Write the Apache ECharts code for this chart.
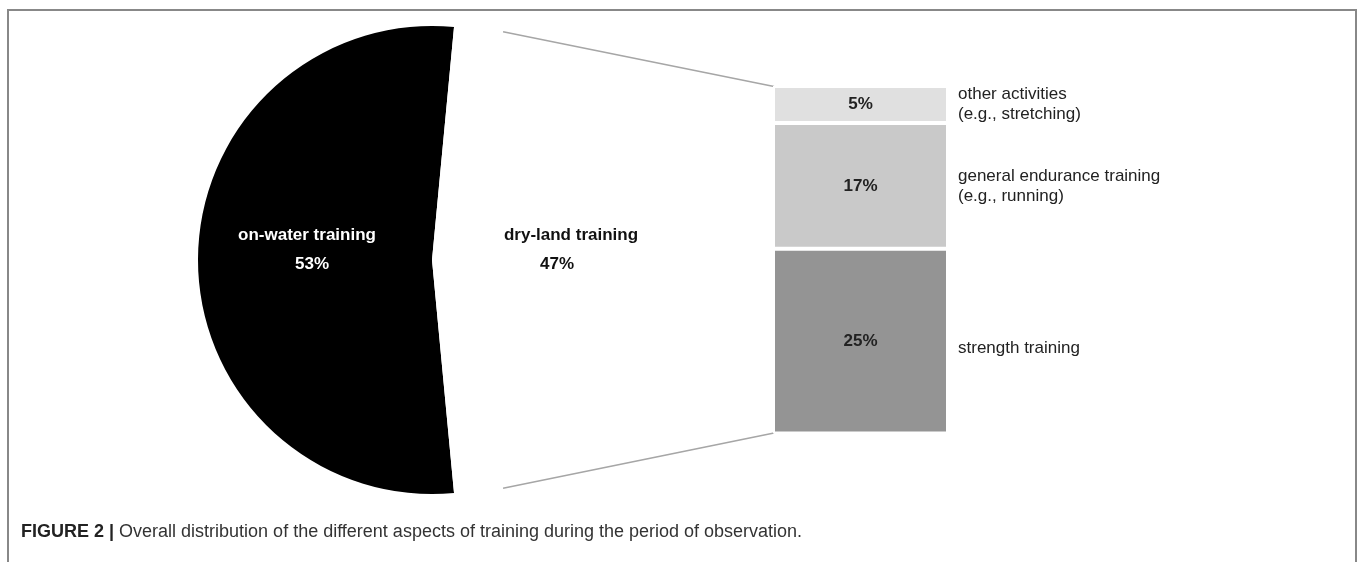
<!DOCTYPE html>
<html>
<head>
<meta charset="utf-8">
<script src="https://cdn.jsdelivr.net/npm/echarts@6/dist/echarts.min.js"></script>
<style>
html,body{margin:0;padding:0;background:#fff;}
#chart{width:1358px;height:562px;}
</style>
</head>
<body>
<div id="chart"></div>
<script>
// ---- data ----
const pieNames = ['on-water training', 'dry-land training'];
const pieValues = [53, 47];
const barNames = ['strength training', 'general endurance training\n(e.g., running)', 'other activities\n(e.g., stretching)'];
const barValues = [25, 17, 5];
const captionBold = 'FIGURE 2 |';
const captionText = 'Overall distribution of the different aspects of training during the period of observation.';

// ---- layout / style ----
const FONT = '"Liberation Sans", Arial, sans-serif';
const pieCenter = [432, 260];
const pieRadius = 234;
const barColors = ['#949494', '#c9c9c9', '#e0e0e0'];
const rightLabelOffsets = [[0, 7], [0, 0], [0, 0]];
const gridBox = {left: 773, top: 86, width: 175, height: 347.5};
const barTotal = barValues.reduce((a, b) => a + b, 0);
const blackShare = pieValues[0] / (pieValues[0] + pieValues[1]) * 360;
const startAngle = 180 + blackShare / 2;

const chart = echarts.init(document.getElementById('chart'), null, {renderer: 'canvas'});

const barSeries = barValues.map((v, i) => ({
  type: 'bar', stack: 'dry', barWidth: '100%', data: [v], name: barNames[i],
  itemStyle: {color: barColors[i], borderColor: '#fff', borderWidth: 2},
  label: {show: true, position: 'inside', formatter: '{c}%', fontFamily: FONT, fontWeight: 'bold', fontSize: 17, color: '#222'},
  emphasis: {disabled: true}, silent: true
}));
const labelSeries = barValues.map((v, i) => ({
  type: 'bar', stack: 'lbl', barWidth: '100%', barGap: '-100%', data: [v], name: 'lbl' + i,
  itemStyle: {color: 'rgba(0,0,0,0)', borderWidth: 0},
  label: {show: true, position: 'right', distance: 10, offset: rightLabelOffsets[i], formatter: barNames[i],
    fontFamily: FONT, fontSize: 17, color: '#222', lineHeight: 20, align: 'left'},
  emphasis: {disabled: true}, silent: true
}));

// connector lines from pie edge to bar corners
const connAngle = 72.7 * Math.PI / 180, connR = 239;
const barLeft = gridBox.left + 1, barTop = gridBox.top + 0.5, barBottom = gridBox.top + gridBox.height - 0.5;
const p1 = [pieCenter[0] + connR * Math.cos(connAngle), pieCenter[1] - connR * Math.sin(connAngle)];
const p2 = [pieCenter[0] + connR * Math.cos(connAngle), pieCenter[1] + connR * Math.sin(connAngle)];

const option = {
  animation: false,
  backgroundColor: '#fff',
  title: {
    left: 16, top: 518,
    text: '{b|' + captionBold + '} ' + captionText,
    textStyle: {fontFamily: FONT, fontSize: 18, fontWeight: 'normal', color: '#333',
      rich: {b: {fontFamily: FONT, fontSize: 18, fontWeight: 'bold', color: '#222'}}}
  },
  grid: gridBox,
  xAxis: {type: 'category', data: ['dry-land'], show: false},
  yAxis: {type: 'value', min: 0, max: barTotal, show: false},
  graphic: [
    {type: 'polyline', shape: {points: [[8, 580], [8, 10], [1356, 10], [1356, 580]]}, style: {stroke: '#888', lineWidth: 2, fill: null}, silent: true},
    {type: 'line', shape: {x1: p1[0], y1: p1[1], x2: barLeft, y2: barTop}, style: {stroke: '#a6a6a6', lineWidth: 1.5}, silent: true},
    {type: 'line', shape: {x1: p2[0], y1: p2[1], x2: barLeft, y2: barBottom}, style: {stroke: '#a6a6a6', lineWidth: 1.5}, silent: true}
  ],
  series: [
    {
      type: 'pie', center: pieCenter, radius: pieRadius, startAngle: startAngle, clockwise: true,
      avoidLabelOverlap: false, silent: true, emphasis: {disabled: true},
      labelLine: {show: false},
      data: pieNames.map((n, i) => ({
        name: n, value: pieValues[i],
        itemStyle: {color: i === 0 ? '#000' : '#fff', borderWidth: 0},
        label: {
          show: true, position: 'inside',
          offset: i === 0 ? [-5, -10.5] : [19, -10.5],
          formatter: '{t|{b}}\n{p|{c}%}',
          rich: {
            t: {fontFamily: FONT, fontWeight: 'bold', fontSize: 17, lineHeight: 29, color: i === 0 ? '#fff' : '#111'},
            p: {fontFamily: FONT, fontWeight: 'bold', fontSize: 17, lineHeight: 29, color: i === 0 ? '#fff' : '#111',
                padding: i === 0 ? [0, 0, 0, 10] : [0, 28, 0, 0]}
          }
        }
      }))
    },
    ...barSeries,
    ...labelSeries
  ]
};
chart.setOption(option);
</script>
</body>
</html>
